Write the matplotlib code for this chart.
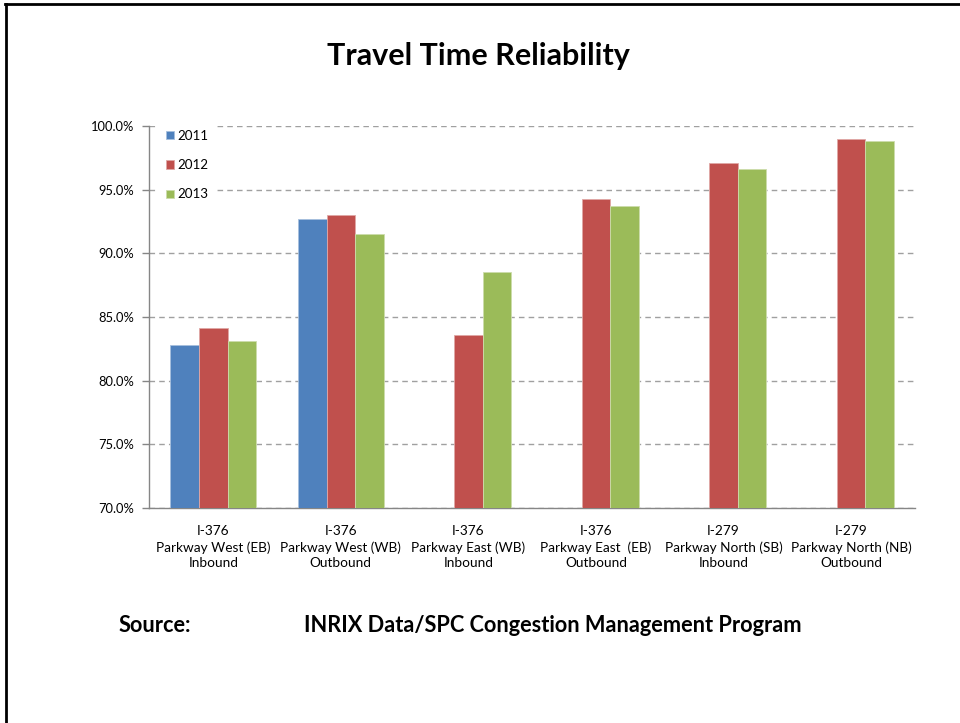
import numpy
import matplotlib
matplotlib.use('Agg')
import matplotlib.pyplot as plt
from matplotlib.lines import Line2D

# Values (percent of trips on time)

routes = ['I-376\nParkway West (EB)\nInbound',
          'I-376\nParkway West (WB)\nOutbound',
          'I-376\nParkway East (WB)\nInbound',
          'I-376\nParkway East  (EB)\nOutbound',
          'I-279\nParkway North (SB)\nInbound',
          'I-279\nParkway North (NB)\nOutbound']

years = ['2011', '2012', '2013']

y2011 = [82.8, 92.7, numpy.nan, numpy.nan, numpy.nan, numpy.nan]
y2012 = [84.1, 93.0, 83.6, 94.3, 97.1, 99.0]
y2013 = [83.1, 91.5, 88.5, 93.7, 96.6, 98.8]

y_ticks = [70, 75, 80, 85, 90, 95, 100]

colors = ['#4F81BD', '#C0504D', '#9BBB59']
edges = ['#A7C0DE', '#E0A8A6', '#CDDDAC']

plt.rcParams['font.family'] = ['Lato', 'DejaVu Sans']

fig = plt.figure(figsize=(9.6, 7.23), dpi=100)
ax = fig.add_axes([0.1557, 0.2974, 0.7974, 0.5283])

x = numpy.arange(len(routes))
w = 0.224

for i, (vals, year) in enumerate(zip([y2011, y2012, y2013], years)):
    ax.bar(x + (i - 1)*w, vals, width=w, color=colors[i],
           edgecolor=edges[i], linewidth=0.6, label=year, zorder=3)

ax.set_xlim(-0.5, len(routes) - 0.5)
ax.set_ylim(70, 100)
ax.set_yticks(y_ticks)
ax.set_yticklabels(['{:.1f}%'.format(v) for v in y_ticks], fontsize=9.3)
ax.set_xticks(x)
ax.set_xticklabels(routes, fontsize=9.8, linespacing=1.36)
ax.tick_params(axis='x', length=0, pad=12.5)
ax.tick_params(axis='y', length=5, width=1, color='#868686', pad=6)

ax.yaxis.grid(True, color='#A0A0A0', linestyle=(0, (4, 3)), linewidth=1, zorder=0)
for s in ['top', 'right']:
    ax.spines[s].set_visible(False)
for s in ['left', 'bottom']:
    ax.spines[s].set_color('#868686')
    ax.spines[s].set_linewidth(1)

leg = ax.legend(loc='upper left', bbox_to_anchor=(0.004, 1.025), fontsize=9.6,
                handlelength=0.6, handleheight=0.6, handletextpad=0.25,
                labelspacing=1.3, frameon=True, fancybox=False,
                borderpad=0.5)
leg.get_frame().set_facecolor('white')
leg.get_frame().set_edgecolor('none')
leg.get_frame().set_alpha(1)
leg.set_zorder(5)

fig.text(0.498, 0.922, 'Travel Time Reliability', ha='center', va='center',
         fontsize=22, fontweight='bold')

fig.text(0.123, 0.1355, 'Source:', ha='left', va='center',
         fontsize=15.7, fontweight='bold')
fig.text(0.3167, 0.1355, 'INRIX Data/SPC Congestion Management Program',
         ha='left', va='center', fontsize=15.7, fontweight='bold')

# frame of the slide: only top and left edges are visible
fig.add_artist(Line2D([6/960, 6/960], [0, 1 - 4/723], color='black',
                      linewidth=2, transform=fig.transFigure))
fig.add_artist(Line2D([5/960, 1], [1 - 4/723, 1 - 4/723], color='black',
                      linewidth=2, transform=fig.transFigure))

fig.savefig('out.png', dpi=100)
